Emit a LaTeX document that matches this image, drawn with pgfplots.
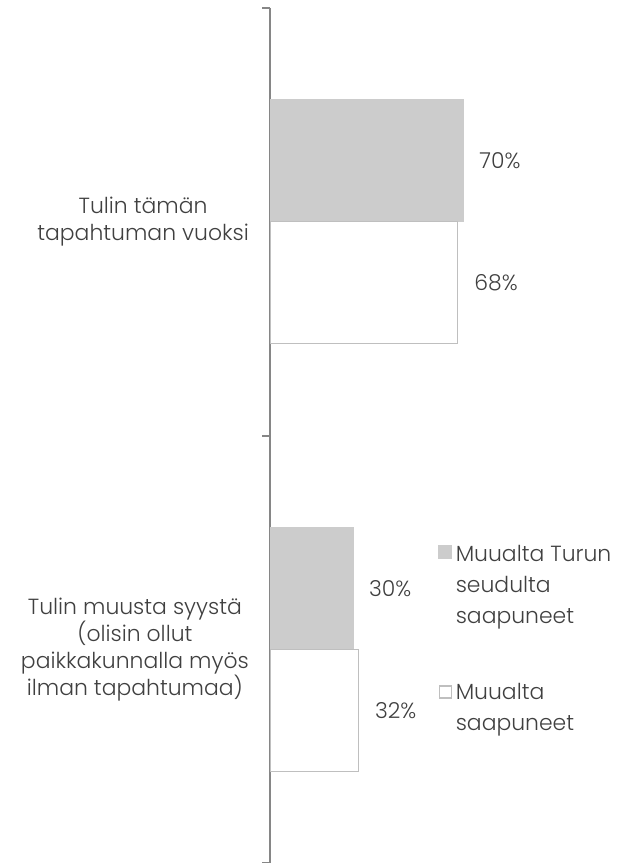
\documentclass[border=0pt]{standalone}
\usepackage{pgfplots}
\pgfplotsset{compat=1.18}
\usepackage{fontspec}
\setmainfont{Poppins}[UprightFont=* Light]
\definecolor{barg}{HTML}{CCCCCC}
\definecolor{bedge}{HTML}{BFBFBF}
\definecolor{axc}{HTML}{868686}
\definecolor{txt}{HTML}{404040}
\newcommand{\chfont}{\fontsize{22}{27}\selectfont}
\newcommand{\lgfont}{\fontsize{22}{31}\selectfont}
\begin{document}
\begin{tikzpicture}[x=1bp,y=1bp]
\path[use as bounding box] (0,0) rectangle (625,863);
\begin{axis}[
  at={(270bp,0bp)}, anchor=south west,
  scale only axis, width=276bp, height=855bp,
  xbar, xmin=0, xmax=100, ymin=0, ymax=2,
  axis x line=none,
  axis y line*=left,
  y axis line style={axc, line width=2bp},
  ytick={0.5,1.5},
  yticklabels={{Tulin tämän\\tapahtuman vuoksi},{Tulin muusta syystä\\(olisin ollut\\paikkakunnalla myös\\ilman tapahtumaa)}},
  y dir=reverse,
  major tick length=0pt,
  yticklabel style={align=center, font=\chfont, text=txt, inner sep=0pt, xshift=-21bp},
  extra y ticks={0,1,2},
  extra y tick labels={},
  extra y tick style={major tick length=8bp, tick align=outside, tick style={axc, line width=2bp}},
  bar width=122bp,
  point meta=x,
  /pgf/number format/assume math mode=true,
  nodes near coords={\pgfmathprintnumber{\pgfplotspointmeta}\%},
  nodes near coords style={anchor=west, inner sep=0pt, xshift=16bp, font=\chfont, text=txt},
  legend style={at={(rel axis cs:0.609,0.376)}, anchor=north west, draw=none, fill=none,
    inner sep=0pt, font=\lgfont, text=txt, cells={align=left}, row sep=52bp,
    nodes={inner sep=3.5bp}},
  legend cell align=left,
]
\addplot[fill=barg, draw=barg, line width=0.5bp, bar shift=61bp,
  legend image code/.code={\fill[barg] (-1.5bp,27bp) rectangle (11.5bp,40bp);}]
  coordinates {(70,0.5) (30,1.5)};
\addlegendentry{Muualta Turun\\seudulta\\saapuneet}
\addplot[fill=white, draw=bedge, line width=1.5bp, bar shift=-61bp,
  legend image code/.code={\draw[bedge, line width=1.5bp, fill=white] (-0.75bp,10bp) rectangle (11.5bp,22bp);}]
  coordinates {(68,0.5) (32,1.5)};
\addlegendentry{Muualta\\saapuneet}
\end{axis}
\end{tikzpicture}
\end{document}
